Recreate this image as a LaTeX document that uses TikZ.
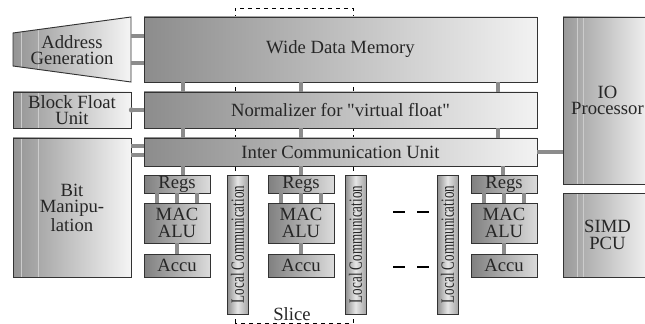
\documentclass[tikz,border=0pt]{standalone}
\usepackage{fontspec}
\setmainfont{Liberation Serif}

\tikzset{
  sz/.style 2 args={minimum width=#1*0.75pt, minimum height=#2*0.75pt},
  blk/.style={draw=black!80, line width=0.7pt, inner sep=0pt, align=center,
    text=black!85, left color=black!45, right color=black!5},
  side/.style={blk, left color=black!42, right color=black!4,
    path picture={
      \draw[white!80!black, line width=0.6pt]
        ([xshift=6pt]path picture bounding box.north west) -- ([xshift=6pt]path picture bounding box.south west)
        ([xshift=18.75pt]path picture bounding box.north west) -- ([xshift=18.75pt]path picture bounding box.south west);}},
  ioside/.style={blk, left color=black!40, right color=black!4,
    path picture={
      \draw[white!80!black, line width=0.6pt]
        ([xshift=10.5pt]path picture bounding box.north west) -- ([xshift=10.5pt]path picture bounding box.south west)
        ([xshift=15pt]path picture bounding box.north west) -- ([xshift=15pt]path picture bounding box.south west);}},
  unit/.style={blk, left color=black!50, right color=black!14},
  lcom/.style={blk, left color=black!45, right color=black!35, middle color=black!10},
  bus/.style={draw=black!45, line width=3pt},
}

\begin{document}
\begin{tikzpicture}[x=0.75pt, y=-0.75pt, font=\fontsize{14}{12.5}\selectfont]
\useasboundingbox (0,0) rectangle (645,324);
\clip (0,0) rectangle (645,324);

% slice frame:
\draw[dashed, line width=0.5pt] (235,323) -- (235,8) -- (353,8) -- (353,323) -- cycle;
\node[text=black!85] (slice) at (292,314) {Slice};

% memory tier:
\node[blk, sz={393}{65}] (wdm) at (340.5,49.5) {Wide Data Memory};
\node[blk, sz={393}{36}] (nrm) at (340.5,110) {Normalizer for \textquotedbl virtual float\textquotedbl};
\node[blk, sz={393}{28}] (icu) at (340.5,152) {Inter Communication Unit};

\foreach \b in {183,301,498} {
  \draw[bus] (\b,0 |- wdm.south) -- (\b,0 |- nrm.north);
  \draw[bus] (\b,0 |- nrm.south) -- (\b,0 |- icu.north);
}

% left column:
\shade[left color=black!42, right color=black!4, draw=black!80, line width=0.7pt,
  path picture={
    \draw[white!80!black, line width=0.6pt] (21,0) -- (21,100) (38,0) -- (38,100);}]
  (13,33) -- (131,17) -- (131,82) -- (13,66) -- cycle;
\node[align=center, text=black!85] (agen) at (72,50) {Address\\Generation};
\coordinate (ag-a) at (131,36);
\coordinate (ag-b) at (131,63);
\draw[bus] (ag-a) -- (ag-a -| wdm.west);
\draw[bus] (ag-b) -- (ag-b -| wdm.west);

\node[side, sz={118}{36}] (bfu) at (72,110) {Block Float\\Unit};
\draw[bus] (bfu.east) -- (nrm.west);
\fill[black!45] (bfu.east) circle (2pt);

\node[side, sz={118}{139}] (bit) at (72,207.5) {Bit\\Manipu-\\lation};
\draw[bus] (bit.east |- 0,146) -- (icu.west |- 0,146);
\draw[bus] (bit.east |- 0,155) -- (icu.west |- 0,155);

% slices:
\foreach \i/\c/\b in {1/177/183, 2/301/301, 3/504/503} {
  \node[unit, sz={66}{18}] (regs\i) at (\c,184) {Regs};
  \node[unit, sz={66}{40}] (mac\i) at (\c,223) {MAC\\ALU};
  \node[unit, sz={66}{23}] (accu\i) at (\c,265.5) {Accu};
  \draw[bus] (\b,0 |- icu.south) -- (\b,0 |- regs\i.north);
  \foreach \d in {-20,0,20}
    \draw[bus] (\c+\d,0 |- regs\i.south) -- (\c+\d,0 |- mac\i.north);
  \draw[bus] (mac\i) -- (accu\i);
}

\foreach \i/\l in {1/237.5, 2/355.5, 3/447.5} {
  \node[lcom, sz={21}{139}] (lc\i) at (\l,244.5) {};
  \node[rotate=90, text=black!85, inner sep=0pt] at (lc\i.center) {\scalebox{0.7}[1]{Local Communication}};
}

\draw[dash pattern=on 9pt off 9pt, line width=0.8pt] (393,212) -- (429,212);
\draw[dash pattern=on 9pt off 9pt, line width=0.8pt] (393,267) -- (429,267);

% right column:
\node[ioside, sz={89}{167}] (io) at (607.5,100.5) {IO\\Processor};
\node[ioside, sz={89}{84}] (simd) at (607.5,235) {SIMD\\PCU};
\draw[bus] (icu.east) -- (icu.east -| io.west);

\end{tikzpicture}
\end{document}
